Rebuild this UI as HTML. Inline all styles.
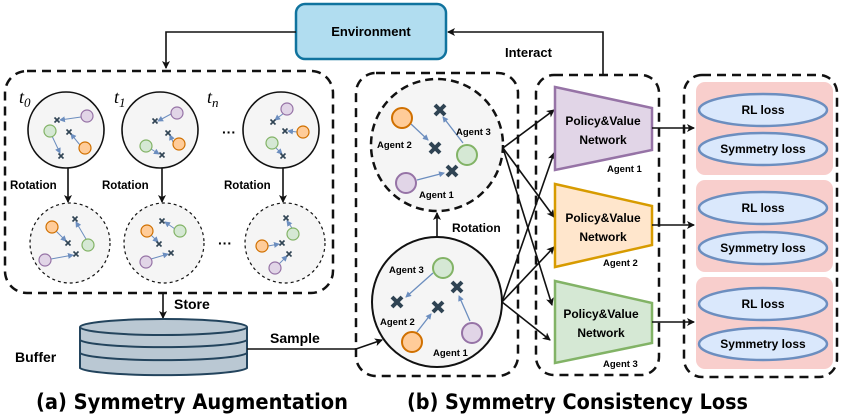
<!DOCTYPE html>
<html><head><meta charset="utf-8"><style>
html,body{margin:0;padding:0;background:#fff;}
svg{display:block;font-family:"Liberation Sans",sans-serif;font-weight:bold;}
</style></head><body>
<svg width="845" height="417" viewBox="0 0 845 417" xmlns="http://www.w3.org/2000/svg">
<defs>
<marker id="ah" markerWidth="8" markerHeight="8" refX="7" refY="4" orient="auto" markerUnits="userSpaceOnUse"><path d="M0,0 L8,4 L0,8 L2,4 z" fill="#111"/></marker>
<marker id="bh" markerWidth="6" markerHeight="6" refX="5" refY="3" orient="auto" markerUnits="userSpaceOnUse"><path d="M0,0 L6,3 L0,6 z" fill="#6c8ebf"/></marker>
<g id="xs"><path d="M-2.5,-2.5 L2.5,2.5 M-2.5,2.5 L2.5,-2.5" stroke="#2f4353" stroke-width="1.6"/></g>
<g id="xb"><path d="M-5,-5 L5,5 M-5,5 L5,-5" stroke="#2f4353" stroke-width="4"/></g>
</defs>

<!-- Environment -->
<rect x="296" y="4" width="150" height="55" rx="9" fill="#b1ddf0" stroke="#10739e" stroke-width="2.5"/>
<text x="371" y="36" font-size="13" text-anchor="middle">Environment</text>
<path d="M296,32 H166 V68" fill="none" stroke="#111" stroke-width="1.6" marker-end="url(#ah)"/>
<path d="M603,76 V32 H448" fill="none" stroke="#111" stroke-width="1.6" marker-end="url(#ah)"/>
<text x="505" y="57" font-size="13">Interact</text>

<!-- Panel a -->
<rect x="5" y="71" width="328" height="222" rx="22" fill="none" stroke="#111" stroke-width="2.5" stroke-dasharray="9,6"/>
<g font-size="18" font-style="italic" font-weight="normal" font-family="Liberation Serif,serif">
<text x="19" y="103">t<tspan font-size="13" dy="4">0</tspan></text>
<text x="114" y="103">t<tspan font-size="13" dy="4">1</tspan></text>
<text x="207" y="103">t<tspan font-size="13" dy="4">n</tspan></text>
</g>
<g fill="#f5f5f5" stroke="#111" stroke-width="1.6">
<circle cx="66" cy="130" r="38"/><circle cx="160" cy="130" r="38"/><circle cx="281" cy="130" r="38"/>
</g>
<g fill="#f5f5f5" stroke="#111" stroke-width="1.2" stroke-dasharray="3,3">
<circle cx="70" cy="243" r="40"/><circle cx="164" cy="243" r="40"/><circle cx="285" cy="243" r="40"/>
</g>
<text x="222" y="137" font-size="14">···</text>
<text x="218" y="248" font-size="14">···</text>
<g font-size="11.5">
<text x="10" y="189">Rotation</text><text x="102" y="189">Rotation</text><text x="224" y="189">Rotation</text>
</g>
<g stroke="#111" stroke-width="1.6" marker-end="url(#ah)">
<line x1="68" y1="168" x2="68" y2="202"/><line x1="162" y1="168" x2="162" y2="202"/><line x1="283" y1="168" x2="283" y2="202"/>
</g>
<g stroke="#6c8ebf" stroke-width="1" marker-end="url(#bh)">
<line x1="81" y1="117" x2="60" y2="120"/><line x1="52" y1="136" x2="60" y2="153"/><line x1="80" y1="145" x2="71" y2="134"/>
<line x1="171" y1="114" x2="158" y2="121"/><line x1="173" y1="142" x2="170" y2="135"/><line x1="151" y1="149" x2="159" y2="154"/>
<line x1="284" y1="113" x2="275" y2="120"/><line x1="297" y1="132" x2="288" y2="131"/><line x1="276" y1="148" x2="282" y2="154"/>
<line x1="56" y1="231" x2="66" y2="241"/><line x1="86" y1="239" x2="76" y2="222"/><line x1="51" y1="259" x2="73" y2="255"/>
<line x1="151" y1="235" x2="158" y2="242"/><line x1="175" y1="229" x2="165" y2="222"/><line x1="151" y1="259" x2="168" y2="254"/>
<line x1="268" y1="246" x2="279" y2="244"/><line x1="292" y1="228" x2="287" y2="221"/><line x1="279" y1="264" x2="287" y2="256"/>
</g>
<g stroke-width="1.2">
<g fill="#e1d5e7" stroke="#9673a6"><circle cx="87" cy="116" r="6"/><circle cx="177" cy="113" r="6"/><circle cx="287" cy="109" r="6"/><circle cx="45" cy="260" r="6"/><circle cx="146" cy="262" r="6"/><circle cx="275" cy="268" r="6"/></g>
<g fill="#d5e8d4" stroke="#82b366"><circle cx="50" cy="131" r="6"/><circle cx="146" cy="146" r="6"/><circle cx="272" cy="143" r="6"/><circle cx="88" cy="245" r="6"/><circle cx="180" cy="231" r="6"/><circle cx="293" cy="234" r="6"/></g>
<g fill="#ffcc99" stroke="#d07000"><circle cx="85" cy="148" r="6"/><circle cx="179" cy="144" r="6"/><circle cx="303" cy="132" r="6"/><circle cx="52" cy="227" r="6"/><circle cx="147" cy="231" r="6"/><circle cx="262" cy="246" r="6"/></g>
</g>
<use href="#xs" x="57" y="120"/><use href="#xs" x="61" y="156"/><use href="#xs" x="69" y="132"/>
<use href="#xs" x="155" y="121"/><use href="#xs" x="168" y="133"/><use href="#xs" x="162" y="155"/>
<use href="#xs" x="273" y="122"/><use href="#xs" x="285" y="131"/><use href="#xs" x="283" y="156"/>
<use href="#xs" x="68" y="243"/><use href="#xs" x="75" y="219"/><use href="#xs" x="76" y="254"/>
<use href="#xs" x="159" y="244"/><use href="#xs" x="162" y="221"/><use href="#xs" x="171" y="253"/>
<use href="#xs" x="282" y="243"/><use href="#xs" x="286" y="218"/><use href="#xs" x="289" y="254"/>

<!-- store/buffer -->
<line x1="163" y1="293" x2="163" y2="318" stroke="#111" stroke-width="1.6" marker-end="url(#ah)"/>
<text x="174" y="309" font-size="14">Store</text>
<g fill="#bac8d3" stroke="#23445d" stroke-width="2">
<path d="M80,327 V368 A84,8 0 0 0 247,368 V327"/>
<path d="M80,340 A84,8 0 0 0 247,340" fill="none"/>
<path d="M80,353 A84,8 0 0 0 247,353" fill="none"/>
<ellipse cx="163.5" cy="327" rx="83.5" ry="8"/>
</g>
<text x="15" y="362" font-size="14">Buffer</text>
<text x="270" y="343" font-size="14">Sample</text>
<path d="M247,349 H356 L382,340" fill="none" stroke="#111" stroke-width="1.6" marker-end="url(#ah)"/>
<text x="36" y="409" font-size="21" textLength="312" lengthAdjust="spacingAndGlyphs" font-family="DejaVu Sans,sans-serif">(a) Symmetry Augmentation</text>

<!-- Panel b1 -->
<rect x="356" y="73" width="162" height="303" rx="20" fill="none" stroke="#111" stroke-width="2.5" stroke-dasharray="9,6"/>
<circle cx="437" cy="145" r="66" fill="#f5f5f5" stroke="#111" stroke-width="2.5" stroke-dasharray="8,5"/>
<circle cx="437" cy="302" r="65" fill="#f5f5f5" stroke="#111" stroke-width="2"/>
<line x1="437" y1="237" x2="437" y2="213" stroke="#111" stroke-width="1.6" marker-end="url(#ah)"/>
<text x="452" y="232" font-size="12">Rotation</text>
<g stroke="#6c8ebf" stroke-width="1.3" marker-end="url(#bh)">
<line x1="411" y1="124" x2="428" y2="140"/><line x1="463" y1="143" x2="443" y2="117"/><line x1="417" y1="180" x2="444" y2="173"/>
<line x1="433" y1="273" x2="406" y2="297"/><line x1="417" y1="332" x2="431" y2="314"/><line x1="470" y1="321" x2="459" y2="296"/>
</g>
<g stroke-width="2">
<circle cx="402" cy="118" r="10" fill="#ffcc99" stroke="#d07000"/>
<circle cx="467" cy="155" r="10" fill="#d5e8d4" stroke="#82b366"/>
<circle cx="406" cy="183" r="10" fill="#e1d5e7" stroke="#9673a6"/>
<circle cx="443" cy="268" r="10" fill="#d5e8d4" stroke="#82b366"/>
<circle cx="412" cy="342" r="10" fill="#ffcc99" stroke="#d07000"/>
<circle cx="472" cy="333" r="10" fill="#e1d5e7" stroke="#9673a6"/>
</g>
<use href="#xb" x="440" y="110"/><use href="#xb" x="435" y="148"/><use href="#xb" x="452" y="171"/>
<use href="#xb" x="397" y="302"/><use href="#xb" x="457" y="287"/><use href="#xb" x="438" y="307"/>
<g font-size="9.5">
<text x="377" y="148">Agent 2</text><text x="456" y="135">Agent 3</text><text x="419" y="198">Agent 1</text>
<text x="389" y="273">Agent 3</text><text x="380" y="325">Agent 2</text><text x="433" y="356">Agent 1</text>
</g>

<g stroke="#111" stroke-width="1.6" marker-end="url(#ah)">
<line x1="503" y1="148" x2="554" y2="110"/><line x1="503" y1="148" x2="554" y2="217"/><line x1="503" y1="148" x2="552" y2="305"/>
<line x1="502" y1="302" x2="554" y2="153"/><line x1="502" y1="302" x2="554" y2="247"/><line x1="502" y1="302" x2="550" y2="340"/>
</g>

<!-- Panel b2 -->
<rect x="536" y="75" width="123" height="300" rx="18" fill="none" stroke="#111" stroke-width="2.5" stroke-dasharray="9,6"/>
<polygon points="555,87 652,108 652,150 555,170" fill="#e1d5e7" stroke="#9673a6" stroke-width="2.5"/>
<polygon points="555,184 652,206 652,245 555,267" fill="#ffe6cc" stroke="#d79b00" stroke-width="2.5"/>
<polygon points="555,281 652,303 652,343 555,363" fill="#d5e8d4" stroke="#82b366" stroke-width="2.5"/>
<g font-size="12" text-anchor="middle">
<text x="603" y="125">Policy&amp;Value</text><text x="603" y="144">Network</text>
<text x="603" y="222">Policy&amp;Value</text><text x="603" y="241">Network</text>
<text x="601" y="318">Policy&amp;Value</text><text x="601" y="337">Network</text>
</g>
<g font-size="9.5"><text x="607" y="172">Agent 1</text><text x="603" y="266">Agent 2</text><text x="603" y="367">Agent 3</text></g>
<g stroke="#111" stroke-width="1.6" marker-end="url(#ah)">
<line x1="652" y1="128" x2="694" y2="128"/><line x1="652" y1="225" x2="694" y2="225"/><line x1="652" y1="322" x2="694" y2="322"/>
</g>

<!-- Panel b3 -->
<rect x="684" y="75" width="153" height="302" rx="18" fill="none" stroke="#111" stroke-width="2.5" stroke-dasharray="9,6"/>
<g fill="#f8cecc"><rect x="696" y="82" width="137" height="93" rx="9"/><rect x="696" y="180" width="137" height="92" rx="9"/><rect x="696" y="277" width="137" height="92" rx="9"/></g>
<g fill="#dae8fc" stroke="#6c8ebf" stroke-width="2.5">
<ellipse cx="763" cy="110" rx="64" ry="16"/><ellipse cx="763" cy="149" rx="64" ry="16"/>
<ellipse cx="763" cy="208" rx="64" ry="16"/><ellipse cx="763" cy="248" rx="64" ry="16"/>
<ellipse cx="763" cy="304" rx="64" ry="16"/><ellipse cx="763" cy="344" rx="64" ry="16"/>
</g>
<g font-size="12" text-anchor="middle">
<text x="763" y="114">RL loss</text><text x="763" y="153">Symmetry loss</text>
<text x="763" y="212">RL loss</text><text x="763" y="252">Symmetry loss</text>
<text x="763" y="308">RL loss</text><text x="763" y="348">Symmetry loss</text>
</g>
<text x="407" y="409" font-size="21" textLength="341" lengthAdjust="spacingAndGlyphs" font-family="DejaVu Sans,sans-serif">(b) Symmetry Consistency Loss</text>
</svg>
</body></html>
